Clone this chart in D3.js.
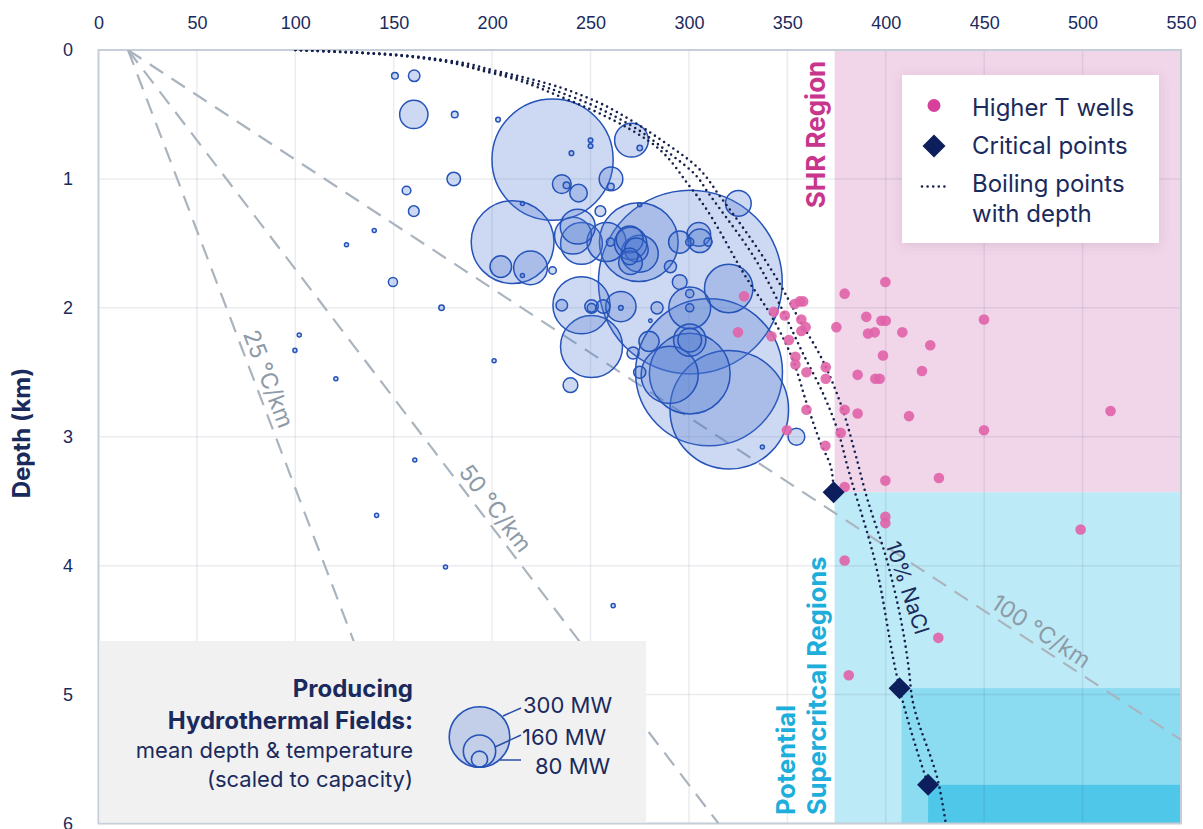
<!DOCTYPE html>
<html>
<head>
<meta charset="utf-8">
<script src="https://cdn.jsdelivr.net/npm/d3@7"></script>
<style>
  body { margin: 0; background: #fff; }
  svg { display: block; font-family: Inter, "Noto Sans", sans-serif; }
</style>
</head>
<body>
<svg id="chart" width="1203" height="829"></svg>
<script>
/* AXIS TICKS */
const tempTicks = [0, 50, 100, 150, 200, 250, 300, 350, 400, 450, 500, 550]
const depthTicks = [0, 1, 2, 3, 4, 5, 6]

/* GEOTHERMAL GRADIENTS (°C/km) FROM SURFACE TEMPERATURE */
const surfaceTemp = 15
const gradients = [25, 50, 100]

/* PRODUCING FIELDS: [temperature °C, depth km, capacity MW] */
const fields = [
  [230.7, 0.85, 600], [160.2, 0.50, 140], [181, 0.50, 33], [203, 0.54, 23],
  [270.8, 0.70, 167], [275, 0.76, 27], [250, 0.70, 23], [250, 0.745, 23],
  [240.3, 0.80, 23], [180.5, 1.00, 67], [156.5, 1.09, 43], [160.2, 1.25, 53],
  [235.4, 1.04, 93], [237.8, 1.05, 33], [243.9, 1.11, 87], [260.4, 1.00, 117],
  [260.3, 1.06, 33], [255, 1.25, 53], [325.1, 1.19, 127], [215.4, 1.19, 20],
  [210.4, 1.49, 410], [204.4, 1.68, 107], [219.5, 1.69, 167], [215.4, 1.75, 20],
  [230.7, 1.71, 37], [243.5, 1.37, 173], [241.1, 1.44, 183], [245.4, 1.50, 207],
  [258.1, 1.49, 193], [260.1, 1.49, 40], [269.9, 1.47, 133], [270.4, 1.50, 160],
  [274.5, 1.49, 390], [273.3, 1.55, 117], [275, 1.58, 183], [269.9, 1.60, 83],
  [270.3, 1.65, 117], [275, 1.20, 20], [290.6, 1.68, 60], [295.3, 1.49, 110],
  [300.4, 1.49, 40], [305, 1.43, 117], [305.5, 1.48, 117], [309.7, 1.49, 40],
  [300.7, 1.80, 910], [320.2, 1.85, 240], [295.3, 1.80, 73], [283.8, 2.00, 60],
  [300.4, 1.89, 40], [300.4, 2.00, 207], [300.4, 2.00, 40], [300.4, 2.25, 160],
  [300.4, 2.25, 117], [245.4, 1.98, 283], [235.4, 1.98, 57], [250.5, 1.99, 67],
  [250.5, 2.00, 43], [256.4, 1.99, 67], [265.4, 1.99, 150], [265.4, 2.00, 23],
  [174.3, 2.00, 27], [250.5, 2.30, 307], [239.8, 2.60, 73], [201, 2.41, 20],
  [160.7, 3.18, 20], [279.7, 2.26, 100], [271.6, 2.35, 60], [275, 2.50, 60],
  [280.4, 2.10, 17], [290.2, 2.52, 283], [310.2, 2.50, 727], [300.4, 2.51, 400],
  [320.5, 2.79, 587], [337.3, 3.08, 20], [354.6, 3.00, 83], [160.4, 0.20, 57],
  [150.6, 0.20, 33], [140.1, 1.40, 20], [126, 1.51, 20], [149.6, 1.80, 45],
  [102, 2.21, 20], [99.8, 2.33, 20], [120.6, 2.55, 20], [141.3, 3.61, 20],
  [176.3, 4.01, 20], [261.5, 4.31, 20]
]

/* HIGHER T WELLS: [temperature °C, depth km] */
const wells = [
  [399.8, 1.80], [379.1, 1.89], [328.0, 1.91], [356.3, 1.95], [353.7, 1.97],
  [358.0, 1.95], [343.1, 2.03], [348.7, 2.06], [390.1, 2.07], [397.8, 2.10],
  [400.0, 2.10], [449.9, 2.09], [357.1, 2.09], [374.9, 2.15], [359.3, 2.15],
  [357.1, 2.18], [324.9, 2.19], [391.0, 2.20], [394.4, 2.19], [408.4, 2.19],
  [341.9, 2.22], [350.8, 2.25], [422.6, 2.29], [398.6, 2.37], [354.1, 2.38],
  [354.1, 2.44], [369.5, 2.46], [359.7, 2.50], [369.5, 2.55], [385.7, 2.52],
  [394.7, 2.55], [396.9, 2.55], [418.4, 2.49], [514.2, 2.80], [359.7, 2.79],
  [379.1, 2.79], [385.7, 2.82], [411.8, 2.84], [449.9, 2.95], [349.8, 2.95],
  [377.1, 2.97], [369.3, 3.07], [399.8, 3.34], [427.0, 3.32], [379.1, 3.39],
  [399.8, 3.62], [399.8, 3.67], [499.0, 3.72], [379.1, 3.96], [426.7, 4.56],
  [381.2, 4.85]
]

/* CRITICAL POINTS: [temperature °C, depth km] */
const criticalPoints = [[373.5, 3.43], [407, 4.95], [421.5, 5.7]]

/* BOILING POINT WITH DEPTH CURVES: [temperature °C, depth km] */
const boilPure = [
  [100, 0], [150, 0.04], [200, 0.18], [236, 0.37], [261, 0.54], [279, 0.70],
  [301, 1.07], [331, 1.81], [341, 2.04], [352.7, 2.40], [359.8, 2.74],
  [366.4, 3.03], [372.5, 3.26], [373.5, 3.43]
]
const boilMid = [
  [100, 0], [150, 0.035], [200, 0.17], [240, 0.36], [270, 0.58], [290, 0.80],
  [304, 0.98], [309, 1.09], [334, 1.63], [347.6, 2.02], [357.8, 2.35],
  [368, 2.66], [376.6, 3.0], [380, 3.2], [394.4, 3.96], [405.4, 4.84],
  [407, 4.95], [421.5, 5.7]
]
const boilSalt = [
  [100, 0], [143, 0.03], [177, 0.08], [200, 0.155], [228, 0.26], [253, 0.40],
  [270, 0.54], [287, 0.71], [304, 0.905], [316, 1.14], [346, 1.81], [356, 2.09],
  [366, 2.35], [377, 2.74], [384.5, 3.13], [390, 3.45], [400.6, 3.96],
  [412, 4.84], [413, 4.99], [427, 5.7], [430.5, 6.0]
]

/* REGIONS: [T from, T to, depth from, depth to] */
const regions = [
  [374, 550, 0, 3.43],
  [374, 550, 3.43, 6],
  [408, 550, 4.95, 6],
  [421.5, 550, 5.7, 6]
]

/* CAPACITY LEGEND (MW) */
const capacityKeys = [300, 160, 80]

const navy = '#1b2a5c'
const svg = d3.select('#chart')

/* SCALES */
const x = d3.scaleLinear().domain([0, 550]).range([98.5, 1181])
const y = d3.scaleLinear().domain([0, 6]).range([50, 823.5])
const r = d3.scaleLinear().domain([0, 300]).range([0, 30.3])

const defs = svg.append('defs')
defs.append('clipPath').attr('id', 'plot')
  .append('rect')
  .attr('x', x(0)).attr('y', y(0))
  .attr('width', x(550) - x(0)).attr('height', y(6) - y(0))
const shadow = defs.append('filter').attr('id', 'shadow')
  .attr('x', '-20%').attr('y', '-20%').attr('width', '140%').attr('height', '140%')
shadow.append('feDropShadow')
  .attr('dx', 0).attr('dy', 2).attr('stdDeviation', 6)
  .attr('flood-color', '#6a3a5a').attr('flood-opacity', 0.16)

/* REGIONS */
const regionFill = ['#f1d6ea', '#bdeaf7', '#8bdbf1', '#4ec7e9']
svg.append('g')
  .selectAll('rect')
  .data(regions)
  .enter().append('rect')
  .attr('x', d => x(d[0]))
  .attr('y', d => y(d[2]))
  .attr('width', d => x(d[1]) - x(d[0]))
  .attr('height', d => y(d[3]) - y(d[2]))
  .attr('fill', (d, i) => regionFill[i])

/* GRID */
const grid = svg.append('g')
  .attr('stroke', '#3c4664')
  .attr('stroke-opacity', 0.1)
  .attr('stroke-width', 1.5)
grid.selectAll('.gx')
  .data(tempTicks)
  .enter().append('line')
  .attr('x1', d => x(d)).attr('x2', d => x(d))
  .attr('y1', y(0)).attr('y2', y(6))
grid.selectAll('.gy')
  .data(depthTicks)
  .enter().append('line')
  .attr('y1', d => y(d)).attr('y2', d => y(d))
  .attr('x1', x(0)).attr('x2', x(550))

svg.append('rect')
  .attr('x', x(0)).attr('y', y(0))
  .attr('width', x(550) - x(0)).attr('height', y(6) - y(0))
  .attr('fill', 'none')
  .attr('stroke', '#c6cfd9')
  .attr('stroke-width', 2)

/* GRADIENT LINES */
const gradG = svg.append('g').attr('clip-path', 'url(#plot)')
gradG.selectAll('line')
  .data(gradients)
  .enter().append('line')
  .attr('x1', x(surfaceTemp)).attr('y1', y(0))
  .attr('x2', g => x(surfaceTemp + g * Math.min(6, (550 - surfaceTemp) / g)))
  .attr('y2', g => y(Math.min(6, (550 - surfaceTemp) / g)))
  .attr('stroke', '#aab4be')
  .attr('stroke-width', 2.2)
  .attr('stroke-dasharray', '16 10')

const labelDepth = { 25: 2.59, 50: 3.62, 100: 4.6 }
svg.append('g')
  .selectAll('text')
  .data(gradients)
  .enter().append('text')
  .attr('transform', g => {
    const ang = Math.atan2(y(1) - y(0), x(surfaceTemp + g) - x(surfaceTemp))
    const d = labelDepth[g]
    const px = x(surfaceTemp + g * d) + 14 * Math.sin(ang)
    const py = y(d) - 14 * Math.cos(ang)
    return `translate(${px},${py}) rotate(${ang * 180 / Math.PI})`
  })
  .attr('text-anchor', 'middle')
  .attr('dy', '0.35em')
  .attr('font-size', 23)
  .attr('fill', '#8d9aa7')
  .text(g => `${g} °C/km`)

/* PRODUCING FIELDS */
svg.append('g')
  .selectAll('circle')
  .data(fields.slice().sort((a, b) => b[2] - a[2]))
  .enter().append('circle')
  .attr('cx', d => x(d[0]))
  .attr('cy', d => y(d[1]))
  .attr('r', d => r(d[2]))
  .attr('fill', '#4a78d0')
  .attr('fill-opacity', 0.28)
  .attr('stroke', '#2553b9')
  .attr('stroke-width', 1.5)

/* BOILING CURVES */
const line = d3.line()
  .x(d => x(d[0]))
  .y(d => y(d[1]))
  .curve(d3.curveMonotoneY)
svg.append('g')
  .attr('clip-path', 'url(#plot)')
  .selectAll('path')
  .data([boilPure, boilMid, boilSalt])
  .enter().append('path')
  .attr('d', line)
  .attr('fill', 'none')
  .attr('stroke', '#16204d')
  .attr('stroke-width', 2.6)
  .attr('stroke-linecap', 'round')
  .attr('stroke-dasharray', '0 5.6')

/* HIGHER T WELLS */
svg.append('g')
  .selectAll('circle')
  .data(wells)
  .enter().append('circle')
  .attr('cx', d => x(d[0]))
  .attr('cy', d => y(d[1]))
  .attr('r', 5.3)
  .attr('fill', '#e063a8')
  .attr('fill-opacity', 0.9)

/* CRITICAL POINTS */
const diamond = s => `M0,${-s}L${s},0L0,${s}L${-s},0Z`
svg.append('g')
  .selectAll('path')
  .data(criticalPoints)
  .enter().append('path')
  .attr('transform', d => `translate(${x(d[0])},${y(d[1])})`)
  .attr('d', diamond(11))
  .attr('fill', '#0c1e5c')

/* REGION LABELS */
svg.append('text')
  .attr('transform', 'translate(825,134.5) rotate(-90)')
  .attr('text-anchor', 'middle')
  .attr('font-size', 26).attr('font-weight', 700)
  .attr('fill', '#c7368c')
  .text('SHR Region')
svg.append('text')
  .attr('transform', 'translate(795,815) rotate(-90)')
  .attr('font-size', 25.5).attr('font-weight', 700)
  .attr('fill', '#1eaedb')
  .text('Potential')
svg.append('text')
  .attr('transform', 'translate(826,815) rotate(-90)')
  .attr('font-size', 25.5).attr('font-weight', 700)
  .attr('fill', '#1eaedb')
  .text('Supercritcal Regions')
svg.append('text')
  .attr('transform', `translate(${x(411)},${y(4.17)}) rotate(71.6)`)
  .attr('text-anchor', 'middle')
  .attr('dy', '0.35em')
  .attr('font-size', 21)
  .attr('fill', navy)
  .text('10% NaCl')

/* TOP RIGHT LEGEND */
const lg = svg.append('g')
lg.append('rect')
  .attr('x', 902).attr('y', 75).attr('width', 257).attr('height', 168)
  .attr('fill', '#fff')
  .attr('filter', 'url(#shadow)')
lg.append('circle').attr('cx', 934).attr('cy', 105.5).attr('r', 6.5).attr('fill', '#d6409b')
lg.append('path').attr('transform', 'translate(934,146)').attr('d', diamond(11.5)).attr('fill', '#0c1e5c')
lg.append('line')
  .attr('x1', 922).attr('x2', 947).attr('y1', 186.5).attr('y2', 186.5)
  .attr('stroke', '#16204d').attr('stroke-width', 2.6)
  .attr('stroke-linecap', 'round').attr('stroke-dasharray', '0 5.6')
const legendText = [['Higher T wells', 116], ['Critical points', 153.5], ['Boiling points', 192], ['with depth', 222]]
lg.selectAll('text')
  .data(legendText)
  .enter().append('text')
  .attr('x', 972).attr('y', d => d[1])
  .attr('font-size', 24)
  .attr('fill', navy)
  .text(d => d[0])

/* CAPACITY LEGEND BOX */
const cb = svg.append('g')
cb.append('rect')
  .attr('x', x(0) + 1).attr('y', 641)
  .attr('width', 646 - x(0) - 1).attr('height', y(6) - 641 - 1)
  .attr('fill', '#f1f1f2')
const boxText = [
  ['Producing', 697, 700, 24],
  ['Hydrothermal Fields:', 728.5, 700, 24],
  ['mean depth & temperature', 758, 400, 22],
  ['(scaled to capacity)', 787, 400, 22]
]
cb.selectAll('text.bt')
  .data(boxText)
  .enter().append('text')
  .attr('class', 'bt')
  .attr('x', 413).attr('y', d => d[1])
  .attr('text-anchor', 'end')
  .attr('font-weight', d => d[2])
  .attr('font-size', d => d[3])
  .attr('fill', navy)
  .text(d => d[0])

const keyBottom = 767.3, keyX = 479.5
cb.selectAll('circle')
  .data(capacityKeys)
  .enter().append('circle')
  .attr('cx', keyX)
  .attr('cy', d => keyBottom - r(d))
  .attr('r', d => r(d))
  .attr('fill', (d, i) => i === 0 ? '#4a78d0' : 'none')
  .attr('fill-opacity', 0.28)
  .attr('stroke', '#2553b9')
  .attr('stroke-width', 1.6)
const leaders = [[503, 716, 521, 708], [495, 747, 521, 735], [500, 760, 521, 760]]
cb.selectAll('line')
  .data(leaders)
  .enter().append('line')
  .attr('x1', d => d[0]).attr('y1', d => d[1])
  .attr('x2', d => d[2]).attr('y2', d => d[3])
  .attr('stroke', '#2a4fa8').attr('stroke-width', 1.5)
const keyLabelPos = [[523, 713], [522, 745], [535, 774]]
cb.selectAll('text.kl')
  .data(capacityKeys)
  .enter().append('text')
  .attr('class', 'kl')
  .attr('x', (d, i) => keyLabelPos[i][0])
  .attr('y', (d, i) => keyLabelPos[i][1])
  .attr('font-size', 22)
  .attr('fill', navy)
  .text(d => `${d} MW`)

/* AXES */
const xAxis = d3.axisTop(x).tickValues(tempTicks).tickSize(0).tickPadding(21.5)
const gx = svg.append('g')
  .attr('transform', `translate(0,${y(0)})`)
  .call(xAxis)
gx.select('.domain').remove()
gx.selectAll('text').attr('font-size', 18).attr('fill', navy).attr('font-family', null)

const yAxis = d3.axisLeft(y).tickValues(depthTicks).tickFormat(d3.format('d')).tickSize(0)
const gy = svg.append('g')
  .attr('transform', `translate(${x(0)},0)`)
  .call(yAxis)
gy.select('.domain').remove()
gy.selectAll('text')
  .attr('x', -30.5)
  .attr('text-anchor', 'middle')
  .attr('font-size', 18).attr('fill', navy).attr('font-family', null)

svg.append('text')
  .attr('transform', 'translate(30,433) rotate(-90)')
  .attr('text-anchor', 'middle')
  .attr('font-size', 24).attr('font-weight', 700)
  .attr('fill', navy)
  .text('Depth (km)')
</script>
</body>
</html>
